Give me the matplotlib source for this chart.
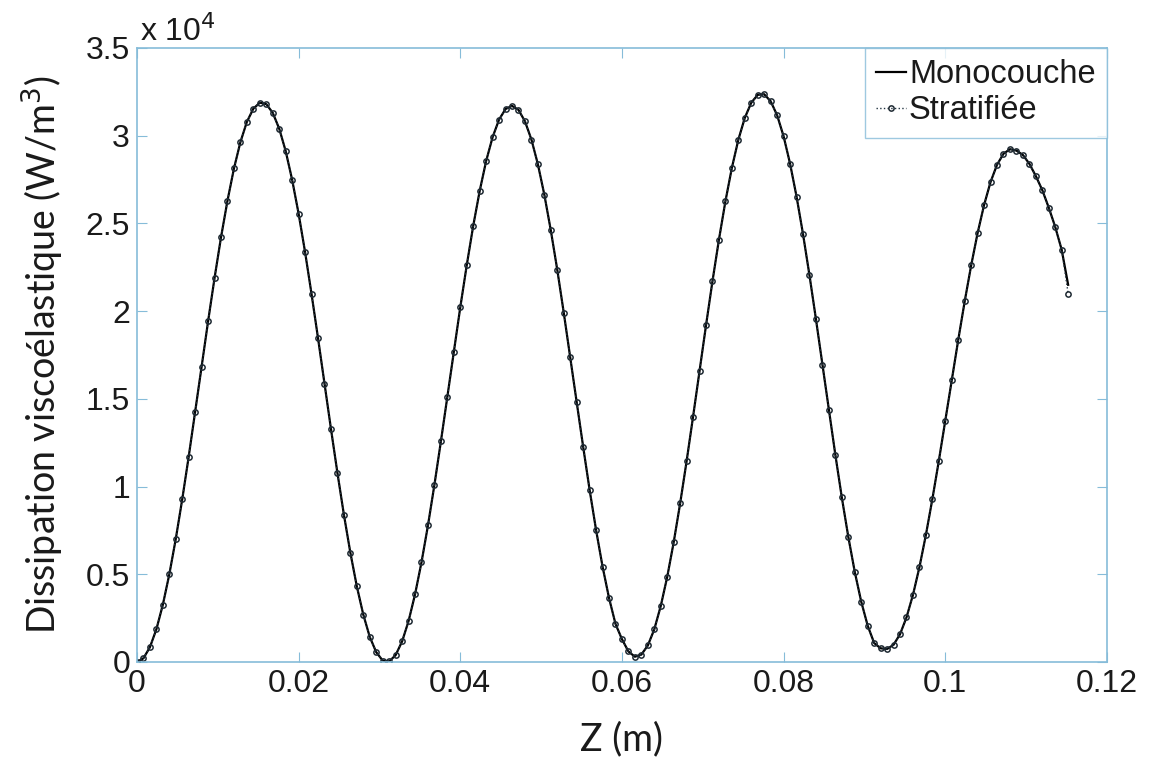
import numpy as np
import matplotlib
matplotlib.use("Agg")
import matplotlib.pyplot as plt
from matplotlib.ticker import FuncFormatter

# dissipation values, units of 1e4 W/m3
diss = [0, 0.021, 0.084, 0.186, 0.326, 0.499, 0.701, 0.927, 1.170, 1.425,
        1.684, 1.942, 2.189, 2.421, 2.630, 2.813, 2.964, 3.079, 3.154, 3.188,
        3.180, 3.130, 3.040, 2.912, 2.748, 2.555, 2.336, 2.097, 1.846, 1.587,
        1.329, 1.078, 0.840, 0.623, 0.431, 0.270, 0.143, 0.056, 0.008,
        0.003, 0.039, 0.117, 0.233, 0.385, 0.568, 0.778, 1.010, 1.257, 1.511,
        1.769, 2.022, 2.262, 2.486, 2.685, 2.856, 2.992, 3.092, 3.152, 3.170,
        3.147, 3.082, 2.978, 2.837, 2.663, 2.460, 2.235, 1.991, 1.738, 1.481,
        1.227, 0.981, 0.752, 0.544, 0.365, 0.217, 0.13, 0.06, 0.03,
        0.042, 0.094, 0.186, 0.319, 0.485, 0.682, 0.904, 1.145, 1.399, 1.659,
        1.919, 2.171, 2.408, 2.626, 2.817, 2.977, 3.102, 3.188, 3.233, 3.236,
        3.196, 3.116, 2.996, 2.840, 2.653, 2.439, 2.204, 1.954, 1.695, 1.435,
        1.181, 0.938, 0.714, 0.514, 0.344, 0.207, 0.108, 0.078, 0.074,
        0.098, 0.158, 0.254, 0.382, 0.540, 0.724, 0.928, 1.146, 1.375, 1.606,
        1.835, 2.055, 2.260, 2.445, 2.605, 2.736, 2.834, 2.897, 2.923, 2.915,
        2.89, 2.84, 2.77, 2.69, 2.59, 2.48, 2.35, 2.15]
z = np.linspace(0, 0.1152, len(diss))
mono = np.array(diss) * 1e4
strat = np.array(diss[:-1] + [2.10]) * 1e4

xticks = [0, 0.02, 0.04, 0.06, 0.08, 0.1, 0.12]
yticks = [0, 5000, 10000, 15000, 20000, 25000, 30000, 35000]

axcol = "#86bcd9"
txtcol = "#1a1a1a"

fig = plt.figure(figsize=(11.49, 7.71), dpi=100)
ax = fig.add_axes([0.1192, 0.1414, 0.8442, 0.7964])

ax.plot(z, mono, "-", color="black", lw=1.6, label="Monocouche")
ax.plot(z, strat, ":", color="#223340", lw=1.0, marker="o", ms=3.8,
        mfc="none", mec="#1f2a33", mew=1.1, label="Stratifiée")

ax.set_xlim(0, 0.12)
ax.set_ylim(0, 35000)
ax.set_xticks(xticks)
ax.set_yticks(yticks)
ax.xaxis.set_major_formatter(FuncFormatter(lambda v, p: f"{v:g}"))
ax.yaxis.set_major_formatter(FuncFormatter(lambda v, p: f"{v/1e4:g}"))
ax.tick_params(direction="in", length=7, color=axcol, top=True, right=True,
               labelsize=23, labelcolor=txtcol, pad=5)
for lab in ax.get_xticklabels() + ax.get_yticklabels():
    lab.set_fontfamily("Liberation Sans")
for s in ax.spines.values():
    s.set_color(axcol)
    s.set_linewidth(1.2)

ax.text(0.003, 1.0, "x 10$^4$", transform=ax.transAxes, fontsize=23,
        family="Liberation Sans", color=txtcol, va="bottom", ha="left")

ax.set_xlabel("Z (m)", fontsize=27, family="Lato", color=txtcol, labelpad=16)
ax.set_ylabel("Dissipation viscoélastique (W/m$^3$)", fontsize=27,
              family="Lato", color=txtcol, labelpad=14)

leg = ax.legend(loc="upper right", frameon=True, fancybox=False,
                borderaxespad=0, handlelength=0.9, handletextpad=0.1,
                borderpad=0.35, labelspacing=0.15,
                prop={"family": "Liberation Sans", "size": 23.5})
leg.get_frame().set_edgecolor(axcol)
leg.get_frame().set_linewidth(1.0)
for t in leg.get_texts():
    t.set_color(txtcol)

fig.savefig("out.png", dpi=100)
